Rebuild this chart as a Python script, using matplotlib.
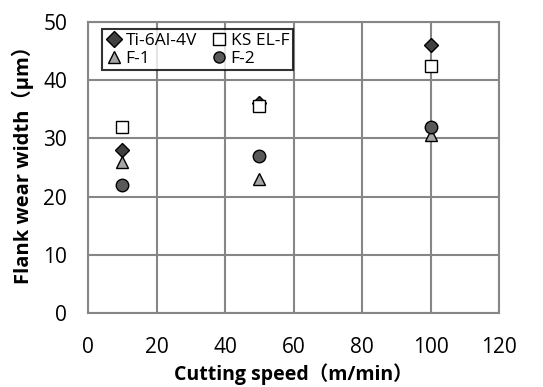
import matplotlib.pyplot as plt

speed = [10, 50, 100]
ti64 = [28, 36, 46]
ksel = [32, 35.5, 42.5]
f1 = [26, 23, 30.5]
f2 = [22, 27, 32]

plt.rcParams['font.family'] = ['Open Sans', 'Noto Sans CJK JP', 'DejaVu Sans']

fig = plt.figure(figsize=(5.43, 3.87), dpi=100)
ax = fig.add_axes([88 / 543, 1 - 313 / 387, 411 / 543, 291 / 387])

h1, = ax.plot(speed, ti64, 'D', ms=7, mfc='#404040', mec='black', mew=1, label='Ti-6Al-4V', zorder=3)
h2, = ax.plot(speed, ksel, 's', ms=9, mfc='white', mec='black', mew=1, label='KS EL-F', zorder=3)
h3, = ax.plot(speed, f1, '^', ms=9, mfc='#a6a6a6', mec='black', mew=1, label='F-1', zorder=3)
h4, = ax.plot(speed, f2, 'o', ms=9, mfc='#595959', mec='black', mew=1, label='F-2', zorder=3)

ax.set_xlim(0, 120)
ax.set_ylim(0, 50)
ax.set_xticks(range(0, 121, 20))
ax.set_yticks(range(0, 51, 10))
ax.grid(True, color='#868686', lw=1.5)
ax.set_axisbelow(True)
for s in ax.spines.values():
    s.set_color('#868686')
    s.set_linewidth(1.5)
ax.tick_params(length=0, labelsize=15, colors='#000000')
ax.tick_params(axis='x', pad=17)
ax.tick_params(axis='y', pad=15)

ax.set_xlabel('Cutting speed（m/min）', fontsize=14, fontweight='bold')
ax.set_ylabel('Flank wear width（μm）', fontsize=14.5, fontweight='bold')
ax.xaxis.set_label_coords(0.5, -0.172)
ax.yaxis.set_label_coords(-0.132, 0.525)

# row-major order like the reference: Ti / KS on top, F-1 / F-2 below
leg = ax.legend([h1, h3, h2, h4], ['Ti-6Al-4V', 'F-1', 'KS EL-F', 'F-2'],
                ncol=2, loc='upper left', bbox_to_anchor=(0.034, 0.975), fontsize=12.5,
                frameon=True, fancybox=False, edgecolor='black', borderpad=0.2,
                handletextpad=0.15, columnspacing=0.8, handlelength=1.0, labelspacing=0.1,
                borderaxespad=0)
leg.get_frame().set_linewidth(1.5)
for h in leg.legend_handles:
    h.set_markersize(8)

fig.savefig('out.png')
